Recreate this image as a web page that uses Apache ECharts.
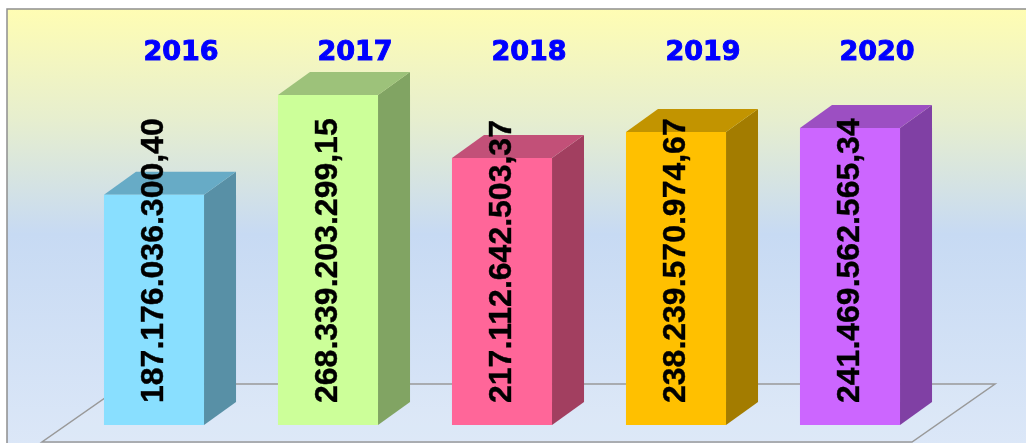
<!DOCTYPE html>
<html>
<head>
    <title>3D bars 2016-2020</title>
    <meta charset="utf-8" />
    <script src="https://cdn.jsdelivr.net/npm/echarts@6/dist/echarts.min.js"></script>
    <style type="text/css">
        html,
        body {
            width: 100%;
            height: 100%;
            margin: 0;
            background: #ffffff;
        }

        #main {
            width: 1026px;
            height: 443px;
        }
    </style>
</head>

<body>
    <div id="main"></div>
    <script>
        var years = ['2016', '2017', '2018', '2019', '2020'];
        var values = [187176036300.40, 268339203299.15, 217112642503.37, 238239570974.67, 241469562565.34];
        var frontColors = ['#89dfff', '#ccff99', '#ff6699', '#ffc000', '#cc66ff'];
        var topColors = ['#67abc6', '#9dc27a', '#c25078', '#c29400', '#9c4fc2'];
        var sideColors = ['#5890a6', '#81a463', '#a23f60', '#a37c00', '#8040a4'];

        // 187176036300.4 -> 187.176.036.300,40
        function fmt(v) {
            var parts = v.toFixed(2).split('.');
            return parts[0].replace(/\B(?=(\d{3})+(?!\d))/g, '.') + ',' + parts[1];
        }

        var myChart = echarts.init(document.getElementById('main'));

        var option = {
            animation: false,
            grid: { left: 67, right: 89, top: 56, bottom: 18 },
            xAxis: { type: 'category', data: years, show: false },
            yAxis: { type: 'value', min: 0, max: 300000000000, show: false },
            graphic: [
                {
                    type: 'rect',
                    z: -10,
                    shape: { x: 7, y: 9, width: 1040, height: 450 },
                    style: {
                        fill: new echarts.graphic.LinearGradient(0, 0, 0, 1, [
                            { offset: 0, color: '#fffdb3' },
                            { offset: 0.25, color: '#e6eecf' },
                            { offset: 0.5, color: '#c7daf3' },
                            { offset: 1, color: '#dde8f8' }
                        ]),
                        stroke: '#8f8f8f',
                        lineWidth: 1.5
                    }
                },
                {
                    type: 'polygon',
                    z: -5,
                    shape: { points: [[125, 384], [995, 384], [912, 442], [42, 442]] },
                    style: { fill: 'rgba(255,255,255,0.08)', stroke: '#999999', lineWidth: 1.5 }
                }
            ],
            series: [
                {
                    type: 'custom',
                    data: values.map(function (v, i) { return [i, v]; }),
                    renderItem: function (params, api) {
                        var i = params.dataIndex;
                        var base = api.coord([api.value(0), 0]);
                        var top = api.coord([api.value(0), api.value(1)]);
                        var w = api.size([1, 0])[0] * 0.575;
                        var dx = 32, dy = 23;
                        var x0 = base[0] - w / 2, x1 = base[0] + w / 2;
                        var yt = top[1], yb = base[1];
                        return {
                            type: 'group',
                            children: [
                                {
                                    type: 'polygon',
                                    shape: { points: [[x1, yt], [x1 + dx, yt - dy], [x1 + dx, yb - dy], [x1, yb]] },
                                    style: { fill: sideColors[i] }
                                },
                                {
                                    type: 'polygon',
                                    shape: { points: [[x0, yt], [x1, yt], [x1 + dx, yt - dy], [x0 + dx, yt - dy]] },
                                    style: { fill: topColors[i] }
                                },
                                {
                                    type: 'rect',
                                    shape: { x: x0, y: yt, width: w, height: yb - yt },
                                    style: { fill: frontColors[i] }
                                },
                                {
                                    type: 'text',
                                    x: base[0],
                                    y: yb - 22,
                                    rotation: Math.PI / 2,
                                    style: {
                                        text: fmt(values[i]),
                                        x: 0,
                                        y: 0,
                                        align: 'left',
                                        verticalAlign: 'middle',
                                        fill: '#000000',
                                        stroke: '#000000',
                                        lineWidth: 0.4,
                                        font: 'bold 32px "Liberation Sans", Arial, sans-serif'
                                    }
                                },
                                {
                                    type: 'text',
                                    x: base[0] + 27,
                                    y: 53,
                                    style: {
                                        text: years[i],
                                        align: 'center',
                                        verticalAlign: 'middle',
                                        fill: '#0000ff',
                                        stroke: '#0000ff',
                                        lineWidth: 1,
                                        font: 'bold 27px "DejaVu Sans", Verdana, sans-serif'
                                    }
                                }
                            ]
                        };
                    }
                }
            ]
        };

        myChart.setOption(option);
    </script>
</body>
</html>
